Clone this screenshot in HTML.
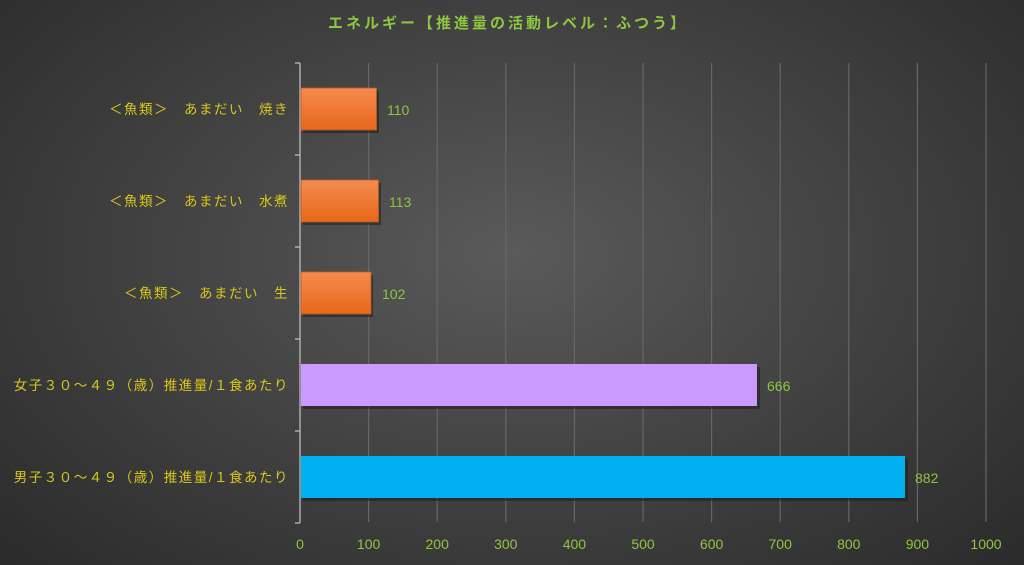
<!DOCTYPE html>
<html><head><meta charset="utf-8"><style>
html,body{margin:0;padding:0;width:1024px;height:565px;overflow:hidden}
body{background:radial-gradient(ellipse 70% 80% at 50% 45%,#5a5a5a 0%,#444 45%,#2a2a2a 100%)}
svg{position:absolute;left:0;top:0}
text{font-family:"Liberation Sans","Noto Sans CJK JP",sans-serif}
</style></head><body>
<svg width="1024" height="565" viewBox="0 0 1024 565">
<defs>
<linearGradient id="og" x1="0" y1="0" x2="0" y2="1"><stop offset="0" stop-color="#f48a50"/><stop offset="1" stop-color="#e8681a"/></linearGradient>
</defs>
<text x="508" y="28" text-anchor="middle" font-size="15" font-weight="bold" fill="#8dc63f" letter-spacing="3">エネルギー【推進量の活動レベル：ふつう】</text>
<g stroke="#666" stroke-width="1.2">
<line x1="368.6" y1="63" x2="368.6" y2="522"/><line x1="437.2" y1="63" x2="437.2" y2="522"/>
<line x1="505.8" y1="63" x2="505.8" y2="522"/><line x1="574.4" y1="63" x2="574.4" y2="522"/>
<line x1="643" y1="63" x2="643" y2="522"/><line x1="711.6" y1="63" x2="711.6" y2="522"/>
<line x1="780.2" y1="63" x2="780.2" y2="522"/><line x1="848.8" y1="63" x2="848.8" y2="522"/>
<line x1="917.4" y1="63" x2="917.4" y2="522"/><line x1="986" y1="63" x2="986" y2="522"/>
</g>
<g stroke="#bbb" stroke-width="1.3">
<line x1="300" y1="63" x2="300" y2="523"/>
<line x1="295" y1="63" x2="300" y2="63"/><line x1="295" y1="155" x2="300" y2="155"/>
<line x1="295" y1="247" x2="300" y2="247"/><line x1="295" y1="339" x2="300" y2="339"/>
<line x1="295" y1="431" x2="300" y2="431"/><line x1="295" y1="523" x2="300" y2="523"/>
</g>
<g fill="#1a1a1a" opacity="0.5">
<rect x="303" y="91" width="76" height="42"/><rect x="303" y="183" width="78" height="42"/>
<rect x="303" y="275" width="70" height="42"/><rect x="303" y="367" width="457" height="42"/>
<rect x="303" y="459" width="605" height="42"/>
</g>
<rect x="301" y="88" width="75.5" height="42" fill="url(#og)" stroke="#b85a20" stroke-width="0.8"/>
<rect x="301" y="180" width="77.5" height="42" fill="url(#og)" stroke="#b85a20" stroke-width="0.8"/>
<rect x="301" y="272" width="70" height="42" fill="url(#og)" stroke="#b85a20" stroke-width="0.8"/>
<rect x="301" y="364" width="456" height="42" fill="#cc99ff"/>
<rect x="301" y="456" width="604" height="42" fill="#00b0f0"/>
<g font-size="14" fill="#8dc63f">
<text x="387" y="115">110</text><text x="389" y="207">113</text><text x="382" y="299">102</text>
<text x="767" y="391">666</text><text x="915" y="483">882</text>
</g>
<g font-size="13.5" fill="#d8c81a" text-anchor="end" letter-spacing="1.5">
<text x="289" y="114">＜魚類＞　あまだい　焼き</text>
<text x="289" y="206">＜魚類＞　あまだい　水煮</text>
<text x="289" y="298">＜魚類＞　あまだい　生</text>
<text x="289" y="390">女子３０～４９（歳）推進量/１食あたり</text>
<text x="289" y="482">男子３０～４９（歳）推進量/１食あたり</text>
</g>
<g font-size="14" fill="#8dc63f" text-anchor="middle">
<text x="300" y="549">0</text><text x="368.6" y="549">100</text><text x="437.2" y="549">200</text>
<text x="505.8" y="549">300</text><text x="574.4" y="549">400</text><text x="643" y="549">500</text>
<text x="711.6" y="549">600</text><text x="780.2" y="549">700</text><text x="848.8" y="549">800</text>
<text x="917.4" y="549">900</text><text x="986" y="549">1000</text>
</g>
</svg>
</body></html>
